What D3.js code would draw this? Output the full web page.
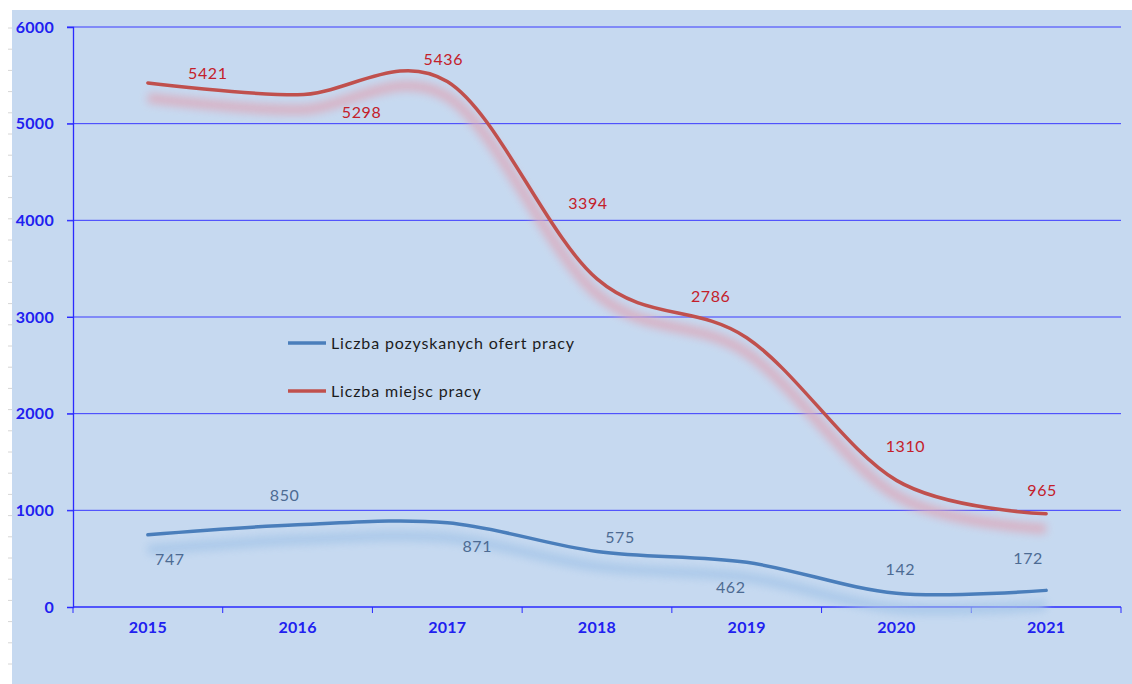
<!DOCTYPE html>
<html>
<head>
<meta charset="utf-8">
<script src="https://cdn.jsdelivr.net/npm/d3@7"></script>
<style>
  html, body { margin: 0; padding: 0; background: #fff; }
  svg { display: block; font-family: Lato, "Open Sans", sans-serif; }
</style>
</head>
<body>
<svg id="chart"></svg>
<script>
var years = ["2015", "2016", "2017", "2018", "2019", "2020", "2021"];
var offers = [747, 850, 871, 575, 462, 142, 172];     // Liczba pozyskanych ofert pracy
var places = [5421, 5298, 5436, 3394, 2786, 1310, 965]; // Liczba miejsc pracy
var yTicks = [0, 1000, 2000, 3000, 4000, 5000, 6000];
var seriesNames = ["Liczba pozyskanych ofert pracy", "Liczba miejsc pracy"];

// label nudges in px (Excel labels were hand placed)
var offersLabelShift = [[22, 25], [-13, -29], [30, 24], [23, -14], [-16, 25], [4, -24], [-18, -32]];
var placesLabelShift = [[60, -10], [64, 18], [-4, -22], [-9, -76], [-36, -41], [9, -34], [-4, -23]];

window.onload = function() {
    var width = 1132,
        height = 684;

    var svg = d3.select("#chart")
        .attr("width", width)
        .attr("height", height);

    // ruler marks on the left
    svg.selectAll("line.ruler")
        .data(d3.range(31))
        .enter().append("line")
        .attr("class", "ruler")
        .attr("x1", 8).attr("x2", 12)
        .attr("y1", function(d) { return 28 + d * 21.2; })
        .attr("y2", function(d) { return 28 + d * 21.2; })
        .style("stroke", "#d6d6d6");

    svg.append("rect")
        .attr("x", 12).attr("y", 10)
        .attr("width", width - 12).attr("height", height - 10)
        .style("fill", "#c6d9f0");

    var x = d3.scaleBand().domain(years).range([73, 1121]);
    var y = d3.scaleLinear().domain([0, 6000]).range([607, 27]);
    var cx = function(d, i) { return x(years[i]) + x.bandwidth() / 2; };

    var defs = svg.append("defs");
    var f = defs.append("filter").attr("id", "shadow")
        .attr("x", "-10%").attr("y", "-20%").attr("width", "120%").attr("height", "140%");
    f.append("feGaussianBlur").attr("stdDeviation", 4.5);

    // grid lines
    svg.selectAll("line.grid")
        .data(yTicks.slice(1))
        .enter().append("line")
        .attr("class", "grid")
        .attr("x1", 67).attr("x2", 1121)
        .attr("y1", function(d) { return y(d); })
        .attr("y2", function(d) { return y(d); })
        .style("stroke", "#3a3aff")
        .style("stroke-width", 1);

    // y axis
    var yAxis = svg.append("g")
        .attr("transform", "translate(73,0)")
        .call(d3.axisLeft(y).tickValues(yTicks).tickSize(6).tickPadding(13).tickFormat(d3.format("d")));
    yAxis.select(".domain").style("stroke", "#2a2aff").style("stroke-width", 1.3);
    yAxis.selectAll(".tick line").style("stroke", "#2a2aff");
    yAxis.selectAll("text")
        .style("font-family", "Lato")
        .style("font-size", "16px")
        .style("font-weight", "bold")
        .style("letter-spacing", "0.3px")
        .style("fill", "#2020f0");

    // x axis
    var xAxis = svg.append("g")
        .attr("transform", "translate(0,607)")
        .call(d3.axisBottom(x).tickSize(0).tickPadding(15));
    xAxis.select(".domain").remove();
    xAxis.selectAll("text")
        .style("font-family", "Lato")
        .style("font-size", "16px")
        .style("font-weight", "bold")
        .style("letter-spacing", "0.3px")
        .style("fill", "#2020f0");
    svg.append("line")
        .attr("x1", 73).attr("x2", 1121).attr("y1", 607).attr("y2", 607)
        .style("stroke", "#2a2aff").style("stroke-width", 1.3);
    svg.selectAll("line.xtick")
        .data(years.concat(["end"]))
        .enter().append("line")
        .attr("class", "xtick")
        .attr("x1", function(d, i) { return 73 + i * x.bandwidth(); })
        .attr("x2", function(d, i) { return 73 + i * x.bandwidth(); })
        .attr("y1", 607).attr("y2", 613)
        .style("stroke", "#2a2aff");

    var line = d3.line()
        .x(cx)
        .y(function(d) { return y(d); })
        .curve(d3.curveCardinal.tension(0));

    var series = [
        {values: offers, color: "#4a7ebb", shadow: "#a6c6e8", label: "#4d6b93", shift: offersLabelShift},
        {values: places, color: "#c0504d", shadow: "#dcaabb", label: "#c4202a", shift: placesLabelShift}
    ];

    series.forEach(function(s) {
        svg.append("path")
            .attr("d", line(s.values))
            .attr("transform", "translate(0,15)")
            .attr("filter", "url(#shadow)")
            .style("fill", "none")
            .style("stroke", s.shadow)
            .style("stroke-width", 10)
            .style("opacity", 0.85);
    });

    series.forEach(function(s) {
        svg.append("path")
            .attr("d", line(s.values))
            .style("fill", "none")
            .style("stroke", s.color)
            .style("stroke-width", 3.5)
            .style("stroke-linecap", "round");

        svg.selectAll(null)
            .data(s.values)
            .enter().append("text")
            .attr("x", function(d, i) { return cx(d, i) + s.shift[i][0]; })
            .attr("y", function(d, i) { return y(d) + s.shift[i][1]; })
            .attr("text-anchor", "middle")
            .attr("dy", "0.35em")
            .style("font-size", "16px")
            .style("letter-spacing", "0.6px")
            .style("fill", s.label)
            .text(function(d) { return d; });
    });

    // legend
    var legend = svg.selectAll("g.legend")
        .data(series)
        .enter().append("g")
        .attr("class", "legend")
        .attr("transform", function(d, i) { return "translate(288," + (343 + i * 48) + ")"; });
    legend.append("line")
        .attr("x1", 0).attr("x2", 38)
        .style("stroke", function(d) { return d.color; })
        .style("stroke-width", 3.5);
    legend.append("text")
        .attr("x", 43)
        .attr("dy", "0.35em")
        .style("font-size", "16px")
        .style("letter-spacing", "0.85px")
        .style("fill", "#1c1c1c")
        .text(function(d, i) { return seriesNames[i]; });
};
</script>
</body>
</html>
